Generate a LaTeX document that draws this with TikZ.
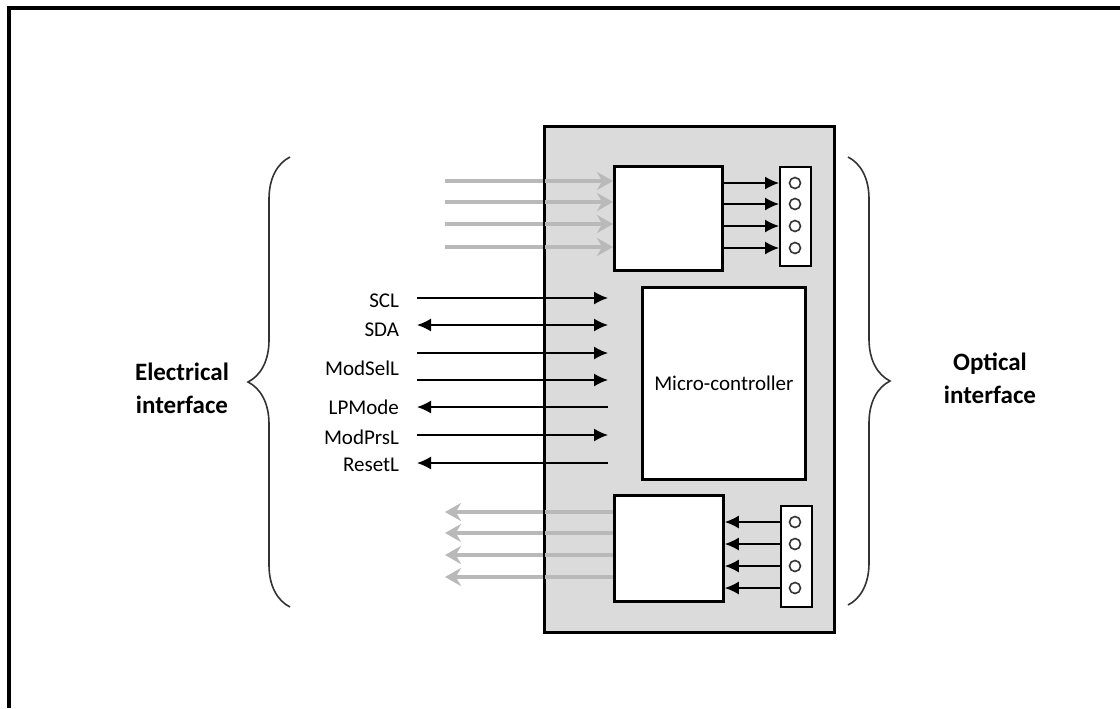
\documentclass[tikz,border=0pt]{standalone}
\usepackage{fontspec}
\setmainfont{Carlito}
\usetikzlibrary{arrows.meta,calc,decorations.pathreplacing}

\tikzset{
  blk/.style={draw=black,line width=1.4pt,fill=white,inner sep=0pt,anchor=north west},
  conn/.style={draw=black,line width=1.2pt,fill=white,inner sep=0pt,anchor=north west,minimum width=15.5pt},
  pin/.style={circle,draw=black!80,line width=0.8pt,minimum size=5.5pt,inner sep=0pt},
  sig/.style={line width=0.8pt},
  lane/.style={gray!55,line width=2.4pt},
  sname/.style={anchor=east,font=\fontsize{10.5}{12}\selectfont,text=black},
  side/.style={align=center,font=\fontsize{12.5}{16.5}\selectfont\bfseries},
  curly/.style={decorate,decoration={brace,amplitude=21pt},line width=0.8pt,black!80}
}

\begin{document}
\begin{tikzpicture}[x=0.5pt,y=-0.5pt,>={Latex[length=7pt,width=6.5pt]}]
  \useasboundingbox (0,0) rectangle (1120,708);
  \draw[line width=2pt] (9,708) -- (9,8) -- (1120,8);

  % module
  \node[draw,line width=1pt,fill=gray!28,inner sep=0pt,anchor=north west,
        minimum width=144.5pt,minimum height=252.5pt] (module) at (544,126) {};

  % lanes to/from the electrical side
  \foreach \i/\y in {1/181,2/202,3/224,4/247} {
    \coordinate (tl\i) at (445,\y);
    \draw[lane,-{Stealth[length=8pt,width=9pt]}] (tl\i) -- (613,\y);
  }
  \foreach \i/\y in {1/512,2/533,3/555,4/577} {
    \coordinate (rl\i) at (445,\y);
    \draw[lane,-{Stealth[length=8pt,width=9pt]}] (613,\y) -- (rl\i);
  }
  \draw[line width=1pt] (module.north west) rectangle (module.south east);

  \node[blk,minimum width=54pt,minimum height=52pt] (tx) at (613,165) {};
  \node[conn,minimum height=49.5pt] (txconn) at (779,166) {};
  \node[blk,minimum width=81.5pt,minimum height=96pt,
        font=\fontsize{10.5}{12}\selectfont] (mcu) at (641,286) {Micro-controller};
  \node[blk,minimum width=54.5pt,minimum height=53pt] (rx) at (613,494) {};
  \node[conn,minimum height=50.5pt] (rxconn) at (780,505) {};

  % optical pins
  \foreach \i/\y in {1/183,2/204,3/226,4/248} {
    \node[pin] (tp\i) at (795,\y) {};
    \draw[sig,->] (tx.east |- tp\i) -- (txconn.west |- tp\i);
  }
  \foreach \i/\y in {1/522,2/544,3/566,4/588} {
    \node[pin] (rp\i) at (795,\y) {};
    \draw[sig,->] (rxconn.west |- rp\i) -- (rx.east |- rp\i);
  }

  % low speed signals
  \foreach \i/\y/\tip in {1/298/->,2/325/<->,3/353/->,4/380/->,5/407/<-,6/435/->,7/463/<-} {
    \coordinate (ls\i) at (417,\y);
    \coordinate (le\i) at (608,\y);
    \draw[sig,\tip] (ls\i) -- (le\i);
  }
  \node[sname] (scl) at (406,301) {SCL};
  \node[sname] (sda) at (406,330) {SDA};
  \node[sname] (modsel) at (406,368) {ModSelL};
  \node[sname] (lpmode) at (406,407) {LPMode};
  \node[sname] (modprs) at (406,437) {ModPrsL};
  \node[sname] (reset) at (406,465) {ResetL};

  % interface braces
  \draw[curly] (290,607) -- (290,157);
  \draw[curly] (848,157) -- (848,605);
  \node[side] (elec) at (182,388) {Electrical\\interface};
  \node[side] (opt) at (990,378) {Optical\\interface};
\end{tikzpicture}
\end{document}
